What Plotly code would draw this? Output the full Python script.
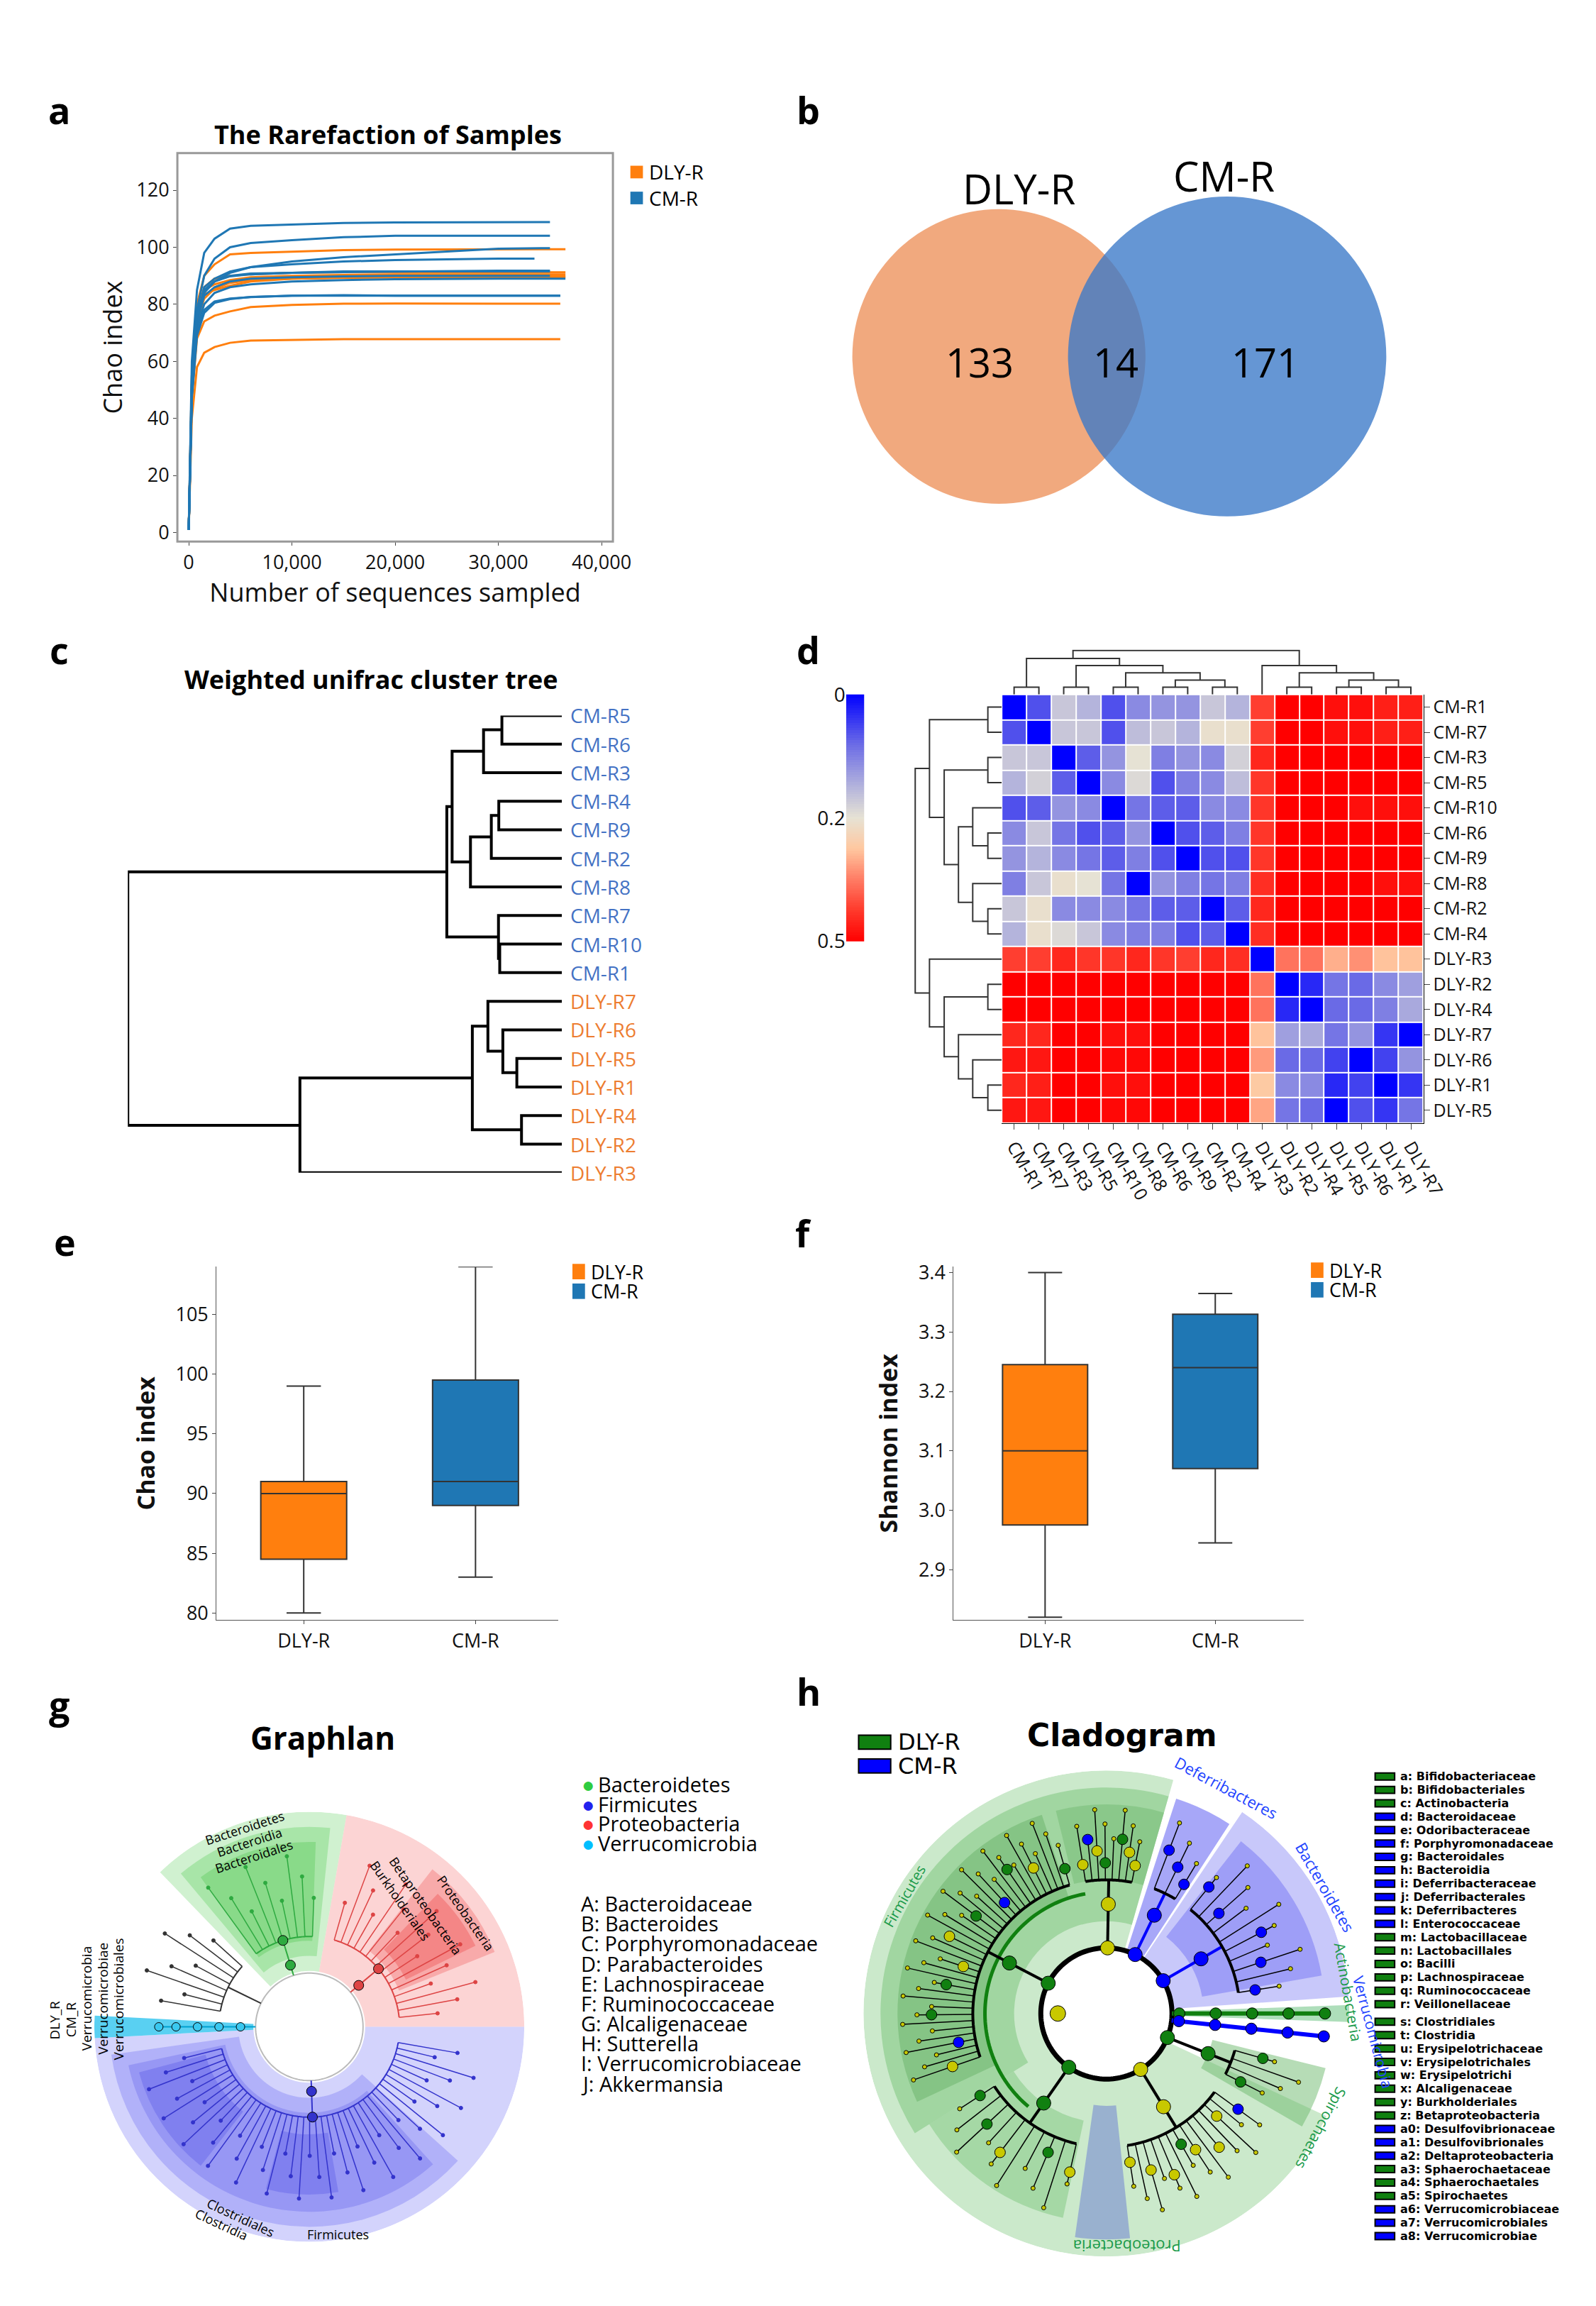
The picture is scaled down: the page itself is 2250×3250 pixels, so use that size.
import numpy as np
import plotly.graph_objects as go

W, H = 2250, 3250
FONT = "Open Sans"
ORANGE = "#ff7f0e"
BLUE = "#1f77b4"

def px(x): return x / W
def py(y): return 1 - y / H

# ---------------- data ----------------
# a: rarefaction
rare_x = [0, 300, 800, 1500, 2500, 4000, 6000, 10000, 15000, 20000, 30000]
cm_curves = [
    [1, 60, 85, 98, 103, 106.5, 107.5, 108, 108.5, 108.7, 108.8, 108.8],
    [1, 55, 78, 90, 96, 100, 101.5, 102.5, 103.5, 104, 104, 104],
    [1, 50, 75, 85, 88, 91, 93, 95, 96.5, 97.5, 99.5, 99.7],
    [1, 50, 75, 86, 89, 91.5, 93, 94, 95, 95.5, 96, 96],
    [1, 50, 74, 84, 88, 89.8, 90.5, 91, 91.3, 91.5, 91.8, 91.8],
    [1, 48, 72, 80, 84, 86, 87, 88, 88.5, 88.8, 89, 89],
    [1, 48, 70, 78, 81, 82, 82.5, 83, 83.2, 83, 83, 83],
    [1, 47, 69, 77, 80.5, 81.8, 82.6, 83, 83, 83, 83, 83],
    [1, 50, 74, 83, 86, 88, 89, 89.5, 89.8, 90, 90, 90],
    [1, 52, 76, 85, 88, 90, 90.8, 91, 91.5, 91.5, 91.5, 91.5],
]
cm_ends = [35000, 35000, 35000, 33500, 35000, 36500, 36000, 36000, 35000, 35000]
dly_curves = [
    [1, 55, 80, 90, 94, 97.5, 98, 98.5, 99, 99.2, 99.3, 99.3],
    [1, 52, 77, 86, 89, 90, 90.5, 91, 91.2, 91.2, 91.2, 91.2],
    [1, 50, 76, 85, 87, 88.5, 89.5, 90, 90.3, 90.5, 90.5, 90.5],
    [1, 50, 76, 83.5, 85, 86.5, 88, 89, 89.3, 89.5, 89.5, 89.5],
    [1, 50, 74, 82, 85.5, 87.5, 88.5, 89, 89.3, 89.5, 89.8, 89.8],
    [1, 47, 68, 74, 76, 77.5, 79, 79.8, 80.2, 80.3, 80.2, 80.2],
    [1, 40, 58, 63, 65, 66.5, 67.3, 67.6, 67.8, 67.8, 67.8, 67.8],
]
dly_ends = [36500, 36500, 36500, 36500, 36500, 36000, 36000]

# b: venn
venn_labels = ["DLY-R", "CM-R"]
venn_counts = [133, 14, 171]

# c: cluster tree
tree_leaves = ["CM-R5", "CM-R6", "CM-R3", "CM-R4", "CM-R9", "CM-R2", "CM-R8", "CM-R7", "CM-R10", "CM-R1",
               "DLY-R7", "DLY-R6", "DLY-R5", "DLY-R1", "DLY-R4", "DLY-R2", "DLY-R3"]
tree_merges = [(0, 1, 193), (17, 2, 252), (3, 4, 203), (19, 5, 227), (20, 6, 294), (18, 21, 353),
               (8, 9, 200), (7, 23, 204), (22, 24, 370),
               (12, 13, 145), (11, 26, 190), (10, 27, 238), (14, 15, 130), (28, 29, 288),
               (30, 16, 842), (25, 31, 1395)]

# d: heatmap
hm_rows = ["CM-R1", "CM-R7", "CM-R3", "CM-R5", "CM-R10", "CM-R6", "CM-R9", "CM-R8", "CM-R2", "CM-R4",
           "DLY-R3", "DLY-R2", "DLY-R4", "DLY-R7", "DLY-R6", "DLY-R1", "DLY-R5"]
hm_cols = ["CM-R1", "CM-R7", "CM-R3", "CM-R5", "CM-R10", "CM-R8", "CM-R6", "CM-R9", "CM-R2", "CM-R4",
           "DLY-R3", "DLY-R2", "DLY-R4", "DLY-R5", "DLY-R6", "DLY-R1", "DLY-R7"]
R50 = [.5, .5, .5, .5, .5, .5]
hm_z = [
    [0, .06, .17, .15, .06, .11, .12, .12, .17, .15, .42, .5, .5, .48, .48, .46, .46],
    [.06, 0, .17, .17, .06, .16, .17, .15, .21, .21, .42, .5, .5, .48, .48, .46, .46],
    [.17, .17, 0, .07, .12, .2, .1, .12, .11, .18, .45] + R50,
    [.15, .18, .07, 0, .11, .19, .06, .1, .11, .16, .43] + R50,
    [.06, .07, .12, .11, 0, .09, .07, .07, .11, .11, .43, .5, .5, .5, .48, .48, .48],
    [.11, .17, .09, .06, .07, .12, 0, .06, .07, .1, .43] + R50,
    [.12, .15, .11, .09, .07, .1, .06, 0, .06, .06, .43] + R50,
    [.1, .17, .21, .2, .09, 0, .12, .1, .09, .1, .44, .5, .5, .5, .5, .48, .48],
    [.17, .21, .11, .11, .11, .09, .07, .07, 0, .07, .45] + R50,
    [.15, .21, .19, .17, .11, .1, .1, .06, .07, 0, .44] + R50,
    [.42, .42, .45, .43, .43, .45, .43, .42, .45, .44, 0, .36, .36, .3, .33, .28, .28],
    [.5] * 10 + [.36, 0, .03, .09, .08, .11, .13],
    [.5] * 10 + [.36, .03, 0, .08, .08, .1, .14],
    [.45, .45, .5, .5, .48, .48, .5, .5, .5, .5, .28, .13, .14, .09, .12, .04, 0],
    [.47, .47, .5, .5, .49, .49, .5, .5, .5, .5, .32, .08, .08, .05, 0, .05, .12],
    [.45, .46, .5, .5, .48, .48, .5, .5, .5, .5, .27, .11, .11, .03, .05, 0, .04],
    [.47, .47, .5, .5, .49, .49, .5, .5, .5, .5, .31, .09, .08, 0, .06, .04, .09],
]
col_merges = [(0, 1, 18), (2, 3, 18), (4, 5, 18), (6, 7, 18), (8, 9, 18), (20, 21, 36), (19, 22, 54),
              (18, 23, 72), (17, 24, 90), (11, 12, 18), (13, 14, 18), (15, 16, 18), (27, 28, 36),
              (26, 29, 54), (10, 30, 72), (25, 31, 110)]
row_merges = [(0, 1, 32), (2, 3, 32), (5, 6, 32), (4, 19, 67), (8, 9, 32), (7, 21, 67), (20, 22, 100),
              (18, 23, 133), (17, 24, 167), (11, 12, 32), (15, 16, 32), (14, 27, 67), (13, 28, 100),
              (26, 29, 133), (10, 30, 167), (25, 31, 200)]
cbar_ticks = [0, 0.2, 0.5]

# e / f: box stats [lower, q1, median, q3, upper]
groups = ["DLY-R", "CM-R"]
chao_stats = {"DLY-R": [80, 84.5, 90, 91, 99], "CM-R": [83, 89, 91, 99.5, 109]}
shannon_stats = {"DLY-R": [2.82, 2.975, 3.10, 3.245, 3.40], "CM-R": [2.945, 3.07, 3.24, 3.33, 3.365]}

# g: graphlan
g_phyla = ["Bacteroidetes", "Firmicutes", "Proteobacteria", "Verrucomicrobia"]
g_phyla_colors = ["#2ecc40", "#2222ee", "#ff3333", "#00bfff"]
g_letters = ["A: Bacteroidaceae", "B: Bacteroides", "C: Porphyromonadaceae", "D: Parabacteroides",
             "E: Lachnospiraceae", "F: Ruminococcaceae", "G: Alcaligenaceae", "H: Sutterella",
             "I: Verrucomicrobiaceae", "J: Akkermansia"]
g_clades = [(86, 128, 9, "#2eaa40"), (4, 76, 16, "#dd4444"), (192, 352, 44, "#3333cc"), (136, 172, 8, "#333333")]

# h: cladogram legend
h_legend = ["a: Bifidobacteriaceae", "b: Bifidobacteriales", "c: Actinobacteria", "d: Bacteroidaceae",
            "e: Odoribacteraceae", "f: Porphyromonadaceae", "g: Bacteroidales", "h: Bacteroidia",
            "i: Deferribacteraceae", "j: Deferribacterales", "k: Deferribacteres", "l: Enterococcaceae",
            "m: Lactobacillaceae", "n: Lactobacillales", "o: Bacilli", "p: Lachnospiraceae",
            "q: Ruminococcaceae", "r: Veillonellaceae", "s: Clostridiales", "t: Clostridia",
            "u: Erysipelotrichaceae", "v: Erysipelotrichales", "w: Erysipelotrichi", "x: Alcaligenaceae",
            "y: Burkholderiales", "z: Betaproteobacteria", "a0: Desulfovibrionaceae", "a1: Desulfovibrionales",
            "a2: Deltaproteobacteria", "a3: Sphaerochaetaceae", "a4: Sphaerochaetales", "a5: Spirochaetes",
            "a6: Verrucomicrobiaceae", "a7: Verrucomicrobiales", "a8: Verrucomicrobiae"]
h_legend_group = "GGGBBBBBBBBBGGGGGGGGGGGGGGBBBGGGBBB"
h_clades = [(78, 100, 8, "yyGGyBy"), (105, 200, 36, "GyGBGyyGGBy"), (212, 258, 10, "GGyGy"),
            (278, 325, 14, "yyyGyyyB"), (332, 345, 4, "GG"), (8, 52, 10, "BBBBB"), (58, 70, 3, "BBB")]

fig = go.Figure()
shapes, annos = [], []

def ann(x, y, text, size, color="black", bold=False, xanchor="center", yanchor="middle", family=FONT, angle=0):
    t = f"<b>{text}</b>" if bold else text
    annos.append(dict(x=px(x), y=py(y), xref="paper", yref="paper", text=t, showarrow=False,
                      font=dict(size=size, color=color, family=family), xanchor=xanchor, yanchor=yanchor,
                      textangle=angle))

def dom(x0, x1, y0, y1):
    return [px(x0), px(x1)], [py(y1), py(y0)]

def dendro(merges, n):
    pos = {i: float(i) for i in range(n)}
    hh = {i: 0.0 for i in range(n)}
    hs, ps = [], []
    for k, (a, b, h) in enumerate(merges):
        hs += [hh[a], h, h, hh[b], None]
        ps += [pos[a], pos[a], pos[b], pos[b], None]
        pos[n + k] = (pos[a] + pos[b]) / 2
        hh[n + k] = h
    return hs, ps

TF = dict(size=27, family=FONT, color="#111")

# ---------------- panel letters & titles ----------------
for L, x, y in [("a", 77, 128), ("b", 1150, 128), ("c", 77, 898), ("d", 1150, 898),
                ("e", 85, 1742), ("f", 1143, 1730), ("g", 77, 2402), ("h", 1150, 2383)]:
    ann(x, y, L, 52, bold=True)
ann(548, 163, "The Rarefaction of Samples", 36, bold=True)
ann(523, 940, "Weighted unifrac cluster tree", 36, bold=True)
ann(454, 2450, "Graphlan", 44, bold=True)
ann(1600, 2446, "Cladogram", 44, bold=True, family="DejaVu Sans")

# ---------------- a ----------------
xd, yd = dom(246, 870, 190, 744)
for curves, ends, col in [(dly_curves, dly_ends, ORANGE), (cm_curves, cm_ends, BLUE)]:
    for cv, e in zip(curves, ends):
        fig.add_trace(go.Scatter(x=rare_x + [e], y=cv, mode="lines", line=dict(color=col, width=3),
                                 showlegend=False, xaxis="x", yaxis="y"))
fig.update_layout(
    xaxis=dict(domain=xd, range=[-1100, 41100], tickvals=[0, 10000, 20000, 30000, 40000],
               tickformat=",", ticks="outside", showline=True, linecolor="#333", showgrid=False, zeroline=False,
               tickfont=TF, anchor="y",
               title=dict(text="Number of sequences sampled", font=dict(size=36, family=FONT, color="#111"), standoff=8)),
    yaxis=dict(domain=yd, range=[-3.2, 133], tickvals=list(range(0, 121, 20)), ticks="outside",
               showline=True, linecolor="#333", showgrid=False, zeroline=False, anchor="x",
               tickfont=TF,
               title=dict(text="Chao index", font=dict(size=36, family=FONT, color="#111"), standoff=8)))
shapes.append(dict(type="rect", xref="x domain", yref="y domain", x0=0, x1=1, y0=0, y1=1,
                   line=dict(color="#999", width=3)))
for i, (lab, col) in enumerate([("DLY-R", ORANGE), ("CM-R", BLUE)]):
    yy = 217 + 37 * i
    shapes.append(dict(type="rect", xref="paper", yref="paper", x0=px(895), x1=px(913), y0=py(yy + 9),
                       y1=py(yy - 9), fillcolor=col, line=dict(width=0)))
    ann(920, yy, lab, 28, xanchor="left")

# ---------------- b ----------------
for (cx, cy, r, col, op) in [(1423, 480, 210, "#f0a070", 0.9), (1750, 480, 228, "#3a78c8", 0.78)]:
    shapes.append(dict(type="circle", xref="paper", yref="paper", x0=px(cx - r), x1=px(cx + r),
                       y0=py(cy + r), y1=py(cy - r), fillcolor=col, opacity=op, line=dict(width=0)))
ann(1452, 240, venn_labels[0], 58)
ann(1745, 222, venn_labels[1], 58)
ann(1395, 488, str(venn_counts[0]), 56)
ann(1590, 488, str(venn_counts[1]), 56)
ann(1805, 488, str(venn_counts[2]), 56)

# ---------------- c ----------------
xd, yd = dom(175, 797, 992, 1644)
hs, ps = dendro(tree_merges, len(tree_leaves))
fig.add_trace(go.Scatter(x=hs, y=ps, mode="lines", line=dict(color="black", width=4), showlegend=False,
                         xaxis="x2", yaxis="y2"))
fig.update_layout(
    xaxis2=dict(domain=xd, range=[1395, 0], visible=False, anchor="y2"),
    yaxis2=dict(domain=yd, range=[16, 0], visible=False, anchor="x2"))
for i, lab in enumerate(tree_leaves):
    annos.append(dict(x=0, y=i, xref="x2", yref="y2", text=lab, showarrow=False, xanchor="left", xshift=10,
                      font=dict(size=28, family=FONT, color="#4472c4" if lab.startswith("CM") else "#ed7d31")))

# ---------------- d ----------------
cs = [[0, "#0000ff"], [0.16, "#6a6ae6"], [0.3, "#b4b4dc"], [0.4, "#e6e2d4"], [0.55, "#ffc8a0"],
      [0.7, "#ff7c64"], [0.85, "#ff3a2c"], [1, "#ff0000"]]
xd, yd = dom(1427, 2031, 962, 1573)
fig.add_trace(go.Heatmap(z=hm_z, x=list(range(17)), y=list(range(17)), zmin=0, zmax=0.5, colorscale=cs,
                         showscale=False, xgap=2, ygap=2, xaxis="x3", yaxis="y3"))
fig.update_layout(
    xaxis3=dict(domain=xd, range=[-0.5, 16.5], tickvals=list(range(17)), ticktext=hm_cols, tickangle=60,
                ticks="outside", ticklen=8, showline=True, linecolor="black", showgrid=False, zeroline=False,
                tickfont=dict(size=25, family=FONT, color="#111"), anchor="y3"),
    yaxis3=dict(domain=yd, range=[16.5, -0.5], tickvals=list(range(17)), ticktext=hm_rows, side="right",
                ticks="outside", ticklen=8, showline=True, linecolor="black", showgrid=False, zeroline=False,
                tickfont=dict(size=25, family=FONT, color="#111"), anchor="x3"))
hs, ps = dendro(col_merges, 17)
xd2, yd2 = dom(1427, 2031, 898, 962)
fig.add_trace(go.Scatter(x=ps, y=hs, mode="lines", line=dict(color="#333", width=2), showlegend=False,
                         xaxis="x4", yaxis="y4"))
hs, ps = dendro(row_merges, 17)
xd3, yd3 = dom(1300, 1427, 962, 1573)
fig.add_trace(go.Scatter(x=hs, y=ps, mode="lines", line=dict(color="#333", width=2), showlegend=False,
                         xaxis="x5", yaxis="y5"))
fig.update_layout(
    xaxis4=dict(domain=xd2, range=[-0.5, 16.5], visible=False, anchor="y4"),
    yaxis4=dict(domain=yd2, range=[0, 112], visible=False, anchor="x4"),
    xaxis5=dict(domain=xd3, range=[205, 0], visible=False, anchor="y5"),
    yaxis5=dict(domain=yd3, range=[16.5, -0.5], visible=False, anchor="x5"))
fr = np.linspace(0, 1, 101)
cb_val = np.where(fr <= 0.5, 0.4 * fr, 0.2 + 0.6 * (fr - 0.5))
xd4, yd4 = dom(1204, 1230, 962, 1314)
fig.add_trace(go.Heatmap(z=[[v] for v in cb_val], x=[0], y=fr, zmin=0, zmax=0.5, colorscale=cs,
                         showscale=False, xaxis="x6", yaxis="y6"))
fig.update_layout(
    xaxis6=dict(domain=xd4, visible=False, anchor="y6"),
    yaxis6=dict(domain=yd4, range=[1, 0], tickvals=[0, 0.5, 1], ticktext=[str(t) for t in cbar_ticks],
                ticks="", showgrid=False, zeroline=False, showline=False,
                tickfont=dict(size=28, family=FONT, color="#111"), anchor="x6"))

# ---------------- e / f ----------------
def box_panel(stats, xa, ya, xr, yr, xdom, ydom, ytitle, tickvals, yfmt):
    for i, g in enumerate(groups):
        lo, q1, med, q3, hi = stats[g]
        fig.add_trace(go.Box(x=[i], q1=[q1], median=[med], q3=[q3], lowerfence=[lo], upperfence=[hi],
                             fillcolor=ORANGE if i == 0 else BLUE, line=dict(color="#333", width=2),
                             width=0.5, whiskerwidth=0.4, showlegend=False, xaxis=xa, yaxis=ya))
    fig.layout[xa.replace("x", "xaxis")] = dict(domain=xdom, range=xr, tickvals=[0, 1], ticktext=groups,
        ticks="outside", showline=True, linecolor="#555", showgrid=False, zeroline=False,
        tickfont=TF, anchor=ya)
    fig.layout[ya.replace("y", "yaxis")] = dict(domain=ydom, range=yr, tickvals=tickvals, tickformat=yfmt,
        ticks="outside", showline=True, linecolor="#555", showgrid=False, zeroline=False,
        tickfont=TF, anchor=xa,
        title=dict(text=f"<b>{ytitle}</b>", font=dict(size=34, family=FONT, color="#111"), standoff=18))

xd, yd = dom(302, 792, 1778, 2282)
box_panel(chao_stats, "x7", "y7", [-0.508, 1.483], [79.4, 109], xd, yd, "Chao index", [80, 85, 90, 95, 100, 105], "d")
xd, yd = dom(1358, 1860, 1778, 2282)
box_panel(shannon_stats, "x8", "y8", [-0.538, 1.521], [2.815, 3.41], xd, yd, "Shannon index",
          [2.9, 3.0, 3.1, 3.2, 3.3, 3.4], ".1f")
for (lx, ly) in [(812, 1785), (1870, 1783)]:
    for i, (lab, col) in enumerate([("DLY-R", ORANGE), ("CM-R", BLUE)]):
        yy = ly + 28 * i
        shapes.append(dict(type="rect", xref="paper", yref="paper", x0=px(lx), x1=px(lx + 18),
                           y0=py(yy + 11), y1=py(yy - 11), fillcolor=col, line=dict(width=0)))
        ann(lx + 24, yy, lab, 27, xanchor="left")

# ---------------- polar helpers ----------------
def wedge(polar, t0, t1, r0, r1, col):
    fig.add_trace(go.Barpolar(r=[r1 - r0], base=[r0], theta=[(t0 + t1) / 2], width=[t1 - t0],
                              marker=dict(color=col, line=dict(width=0)), showlegend=False,
                              hoverinfo="skip", subplot=polar))

def pline(polar, r, th, col, w):
    fig.add_trace(go.Scatterpolar(r=r, theta=th, mode="lines", line=dict(color=col, width=w),
                                  showlegend=False, hoverinfo="skip", subplot=polar))

def pmark(polar, r, th, col, size, lc="black"):
    fig.add_trace(go.Scatterpolar(r=r, theta=th, mode="markers",
                                  marker=dict(color=col, size=size, line=dict(color=lc, width=1)),
                                  showlegend=False, hoverinfo="skip", subplot=polar))

def polar_ann(cx, cy, R, r, th, text, size, col, angle=None):
    x = cx + R * r * np.cos(np.radians(th))
    y = cy - R * r * np.sin(np.radians(th))
    a = angle if angle is not None else (90 - th)
    ann(x, y, text, size, color=col, angle=a)

# ---------------- g ----------------
GCX, GCY, GR = 435, 2862, 308
polar_common = dict(radialaxis=dict(range=[0, 1], visible=False), bgcolor="rgba(0,0,0,0)",
                    angularaxis=dict(visible=False, rotation=0, direction="counterclockwise"))
fig.update_layout(polar=dict(domain=dict(x=[px(GCX - GR), px(GCX + GR)], y=[py(GCY + GR), py(GCY - GR)]),
                             **polar_common))
wedge("polar", 80, 134, 0.26, 1.0, "rgba(150,225,150,0.45)")
wedge("polar", 84, 130, 0.33, 0.93, "rgba(120,215,120,0.45)")
wedge("polar", 88, 126, 0.40, 0.86, "rgba(100,205,100,0.45)")
wedge("polar", 0, 80, 0.26, 1.0, "rgba(250,170,170,0.5)")
wedge("polar", 22, 52, 0.45, 0.93, "rgba(245,120,120,0.45)")
wedge("polar", 26, 46, 0.5, 0.86, "rgba(240,90,90,0.45)")
wedge("polar", 183, 360, 0.26, 1.0, "rgba(175,175,250,0.55)")
wedge("polar", 188, 318, 0.33, 0.93, "rgba(150,150,245,0.55)")
wedge("polar", 192, 312, 0.40, 0.86, "rgba(130,130,240,0.55)")
wedge("polar", 195, 232, 0.5, 0.82, "rgba(110,110,235,0.55)")
wedge("polar", 255, 280, 0.5, 0.78, "rgba(110,110,235,0.55)")
wedge("polar", 177, 183, 0.26, 1.0, "rgba(60,200,240,0.85)")
th_c = np.linspace(0, 360, 181)
pline("polar", [0.25] * len(th_c), th_c, "#bbb", 2)
for (t0, t1, n, col) in g_clades:
    th = np.linspace(t0 + 2, t1 - 2, n)
    mid = (t0 + t1) / 2
    pline("polar", [0.25, 0.42], [mid, mid], col, 2)
    arc = np.linspace(th[0], th[-1], 60)
    pline("polar", [0.42] * 60, arc, col, 2)
    rr, tt = [], []
    for k, t in enumerate(th):
        rr += [0.42, 0.6 + 0.1 * (k % 3), None]
        tt += [t, t, None]
    pline("polar", rr, tt, col, 1.5)
    pmark("polar", [0.6 + 0.1 * (k % 3) for k in range(n)], th, col, 5, col)
    if col != "#333333":
        pmark("polar", [0.3, 0.42], [mid, mid], col, 14)
pline("polar", [0.25, 0.7], [180, 180], "#00a0d0", 2)
pmark("polar", [0.32, 0.42, 0.52, 0.62, 0.7], [180] * 5, "#3ac8f0", 12)
for r, t, txt in [(0.97, 108, "Bacteroidetes"), (0.9, 108, "Bacteroidia"), (0.83, 108, "Bacteroidales")]:
    polar_ann(GCX, GCY, GR, r, t, txt, 18, "black")
for r, t, txt in [(0.9, 36, "Proteobacteria"), (0.78, 46, "Betaproteobacteria"), (0.72, 54, "Burkholderiales")]:
    polar_ann(GCX, GCY, GR, r, t, txt, 18, "black", angle=55)
polar_ann(GCX, GCY, GR, 0.94, 250, "Clostridiales", 18, "black", angle=25)
polar_ann(GCX, GCY, GR, 1.0, 246, "Clostridia", 18, "black", angle=25)
polar_ann(GCX, GCY, GR, 0.97, 278, "Firmicutes", 18, "black", angle=0)
for i, txt in enumerate(["DLY_R", "CM_R", "Verrucomicrobia", "Verrucomicrobiae", "Verrucomicrobiales"]):
    ann(70 + 23 * i, 2852 - (0 if i < 2 else 30), txt, 19, angle=-90)
for i, (nm, col) in enumerate(zip(g_phyla, g_phyla_colors)):
    yy = 2516 + 28 * i
    annos.append(dict(x=px(823), y=py(yy), xref="paper", yref="paper", text="●", showarrow=False,
                      font=dict(size=30, color=col), xanchor="left", yanchor="middle"))
    ann(847, yy, nm, 29, xanchor="left")
for i, txt in enumerate(g_letters):
    ann(822, 2686 + 28.5 * i, txt, 29, xanchor="left")

# ---------------- h ----------------
HCX, HCY, HR = 1577, 2843, 348
fig.update_layout(polar2=dict(domain=dict(x=[px(HCX - HR), px(HCX + HR)], y=[py(HCY + HR), py(HCY - HR)]),
                              **polar_common))
GRN = "#108010"
YEL = "#c8c800"
wedge("polar2", 74, 335, 0.27, 1.0, "rgba(160,215,160,0.55)")
wedge("polar2", 74, 212, 0.38, 0.93, "rgba(120,195,120,0.5)")
wedge("polar2", 74, 104, 0.55, 0.86, "rgba(110,185,110,0.45)")
wedge("polar2", 108, 205, 0.5, 0.86, "rgba(100,175,100,0.45)")
wedge("polar2", 212, 258, 0.45, 0.86, "rgba(120,195,120,0.45)")
wedge("polar2", 262, 276, 0.38, 0.93, "rgba(120,140,210,0.6)")
wedge("polar2", 330, 346, 0.45, 0.93, "rgba(110,185,110,0.5)")
wedge("polar2", 4, 56, 0.27, 1.0, "rgba(170,170,248,0.65)")
wedge("polar2", 10, 52, 0.4, 0.9, "rgba(130,130,245,0.6)")
wedge("polar2", 57, 72, 0.27, 0.93, "rgba(120,120,245,0.65)")
wedge("polar2", -2, 2, 0.3, 1.0, "rgba(120,200,140,0.6)")
pline("polar2", [0.27] * len(th_c), th_c, "black", 7)
arc = np.linspace(100, 230, 80)
pline("polar2", [0.5] * 80, arc, GRN, 5)
cmap = {"y": YEL, "G": GRN, "B": "#0000ff"}
for (t0, t1, n, pat) in h_clades:
    th = np.linspace(t0 + 1, t1 - 1, n)
    mid = (t0 + t1) / 2
    bc = "#0000ff" if pat[0] == "B" else "black"
    pline("polar2", [0.27, 0.55], [mid, mid], bc, 4)
    a2 = np.linspace(th[0], th[-1], 40)
    pline("polar2", [0.55] * 40, a2, "black", 4)
    rr, tt = [], []
    for k, t in enumerate(th):
        rr += [0.55, 0.72 + 0.06 * (k % 3), None]
        tt += [t, t, None]
    pline("polar2", rr, tt, "black", 1.5)
    pmark("polar2", [0.72 + 0.06 * (k % 3) for k in range(n)], th, YEL, 6)
    sel = np.linspace(0, n - 1, len(pat)).round().astype(int)
    pmark("polar2", [0.62 + 0.05 * (k % 3) for k in range(len(pat))], th[sel],
          [cmap[c] for c in pat], 15)
    pmark("polar2", [0.27, 0.45], [mid, mid], cmap[pat[0]], 20)
for t, col in [(0, GRN), (-6, "#0000ff")]:
    pline("polar2", [0.27, 0.9], [t, t], col, 6)
    pmark("polar2", [0.3, 0.45, 0.6, 0.75, 0.9], [t] * 5, col, 16)
pmark("polar2", [0.2], [180], YEL, 22)
polar_ann(HCX, HCY, HR, 0.96, 150, "Firmicutes", 20, "#1a9a4a")
polar_ann(HCX, HCY, HR, 0.96, 275, "Proteobacteria", 22, "#1a9a4a", angle=180)
polar_ann(HCX, HCY, HR, 1.05, 62, "Deferribacteres", 22, "#2244ff")
polar_ann(HCX, HCY, HR, 1.04, 30, "Bacteroidetes", 22, "#2244ff")
polar_ann(HCX, HCY, HR, 1.0, 5, "Actinobacteria", 21, "#1a9a4a", angle=80)
polar_ann(HCX, HCY, HR, 1.1, -4, "Verrucomicrobia", 21, "#2244ff", angle=75)
polar_ann(HCX, HCY, HR, 1.0, 332, "Spirochaetes", 21, "#1a9a4a")
for i, (lab, col) in enumerate([("DLY-R", GRN), ("CM-R", "#0000ff")]):
    yy = 2456 + 34 * i
    shapes.append(dict(type="rect", xref="paper", yref="paper", x0=px(1222), x1=px(1268), y0=py(yy + 10),
                       y1=py(yy - 10), fillcolor=col, line=dict(color="black", width=2)))
    ann(1276, yy, lab, 32, xanchor="left", family="DejaVu Sans")
for i, txt in enumerate(h_legend):
    yy = 2505 + i * 19.1 + (6 if i >= 18 else 0)
    col = GRN if h_legend_group[i] == "G" else "#0000ff"
    shapes.append(dict(type="rect", xref="paper", yref="paper", x0=px(1962), x1=px(1990), y0=py(yy + 5),
                       y1=py(yy - 5), fillcolor=col, line=dict(color="black", width=2)))
    ann(1996, yy, txt, 16, xanchor="left", bold=True, family="DejaVu Sans")

fig.update_layout(width=W, height=H, margin=dict(l=0, r=0, t=0, b=0), plot_bgcolor="white",
                  paper_bgcolor="white", shapes=shapes, annotations=annos, showlegend=False,
                  font=dict(family=FONT, color="#111"))
fig.write_html("out.html")
